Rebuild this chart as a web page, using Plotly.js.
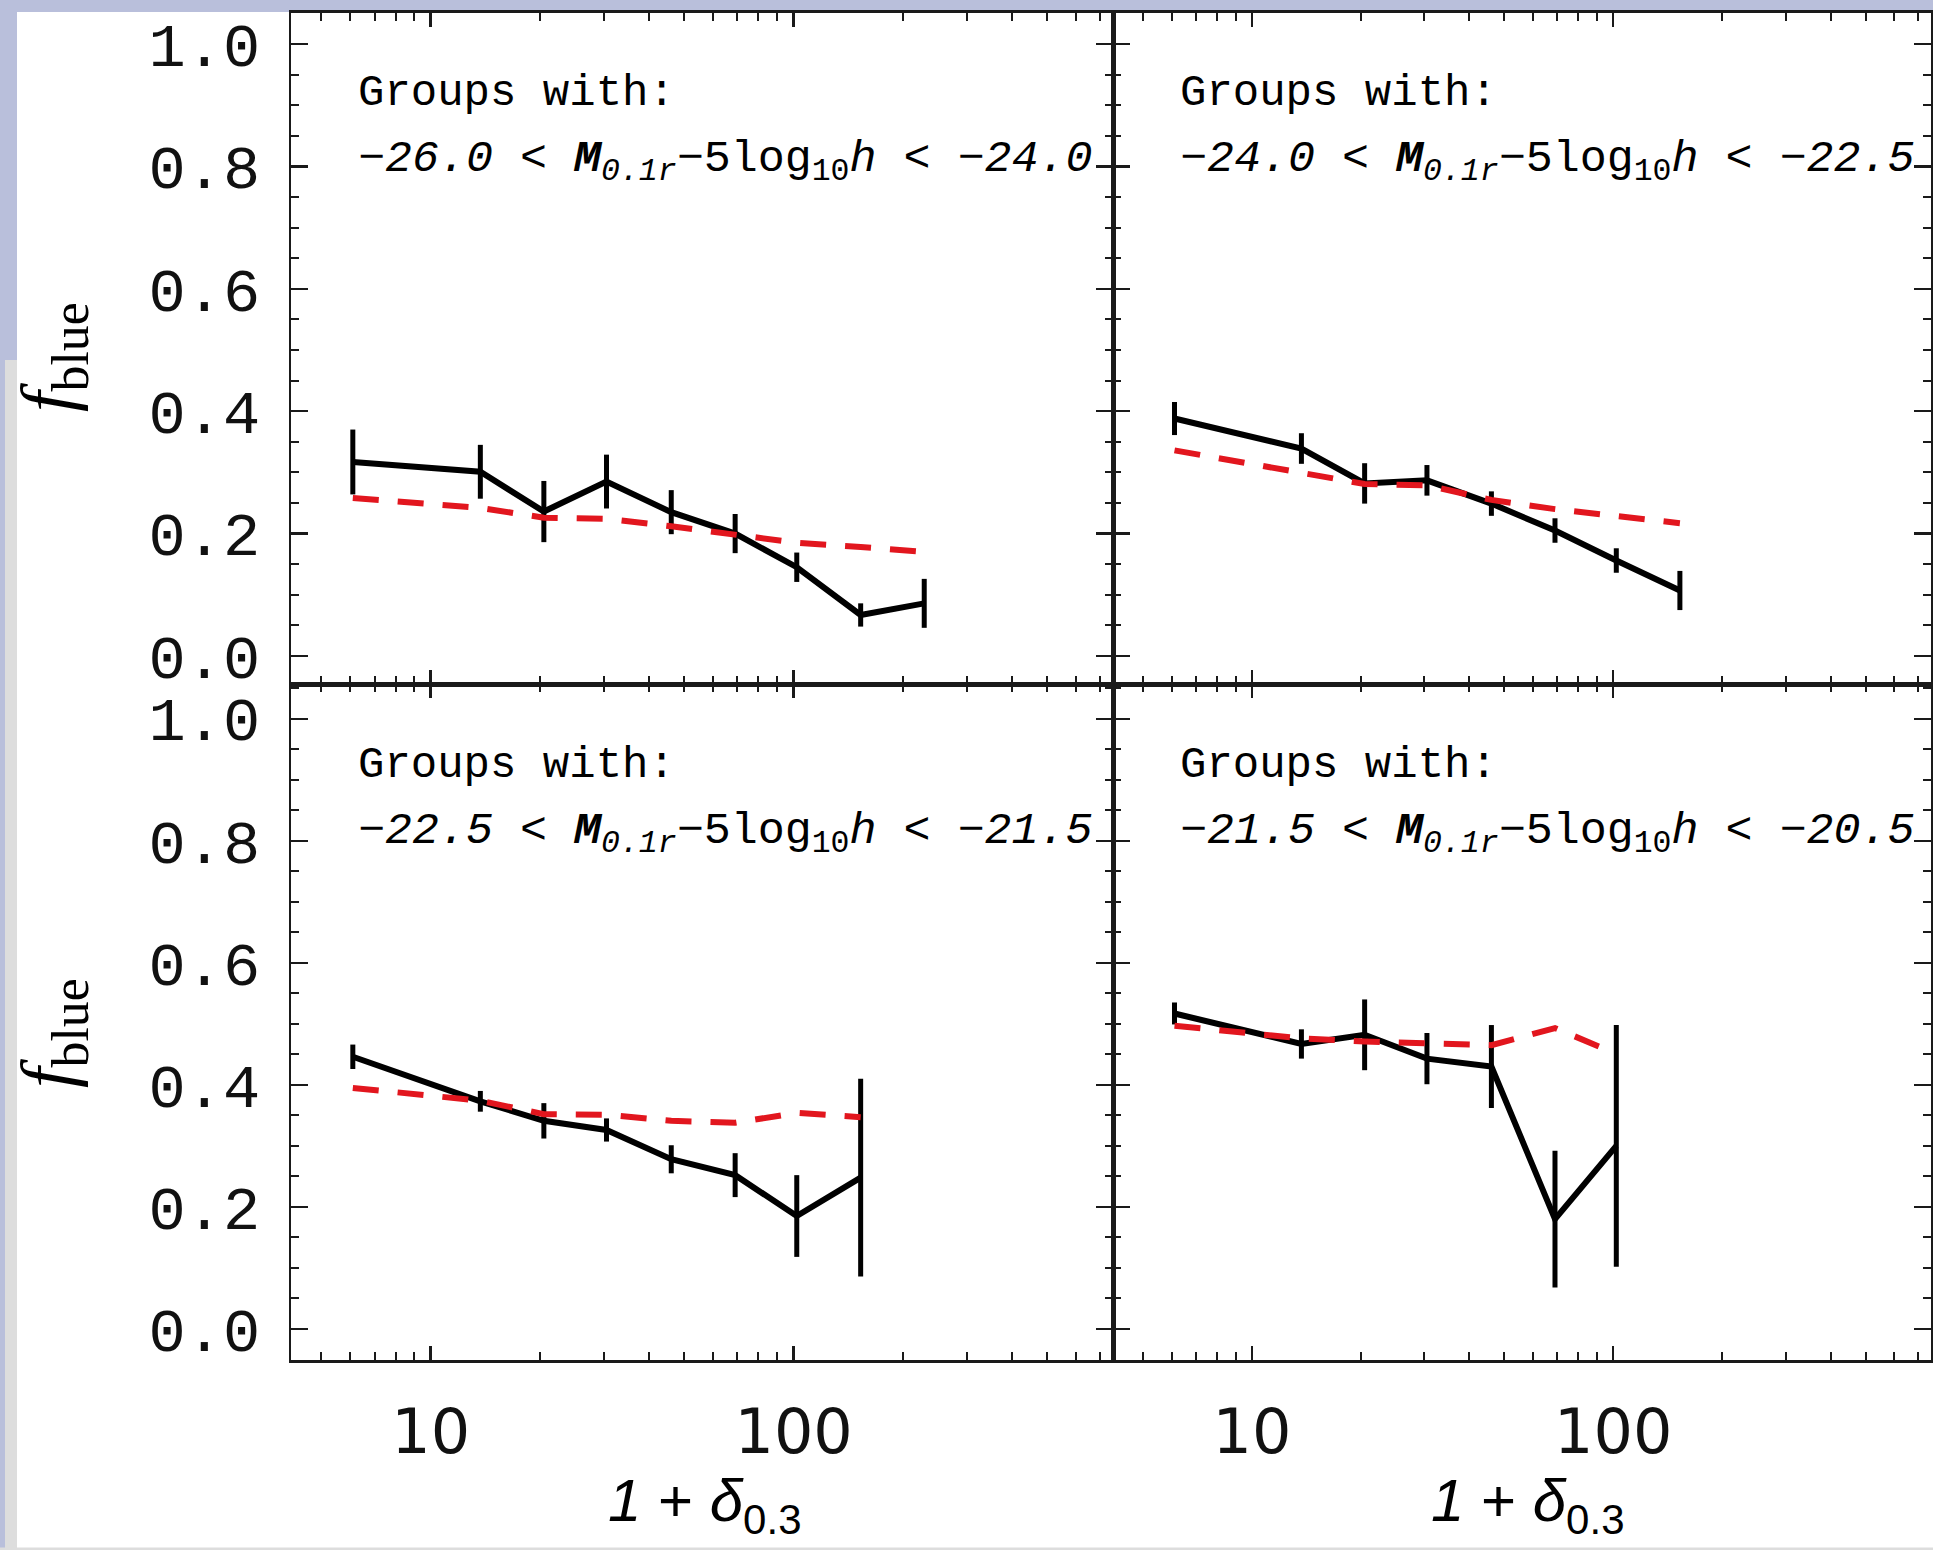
<!DOCTYPE html>
<html>
<head>
<meta charset="utf-8">
<script src="https://cdn.plot.ly/plotly-3.0.1.min.js"></script>
<style>html,body{margin:0;padding:0;background:#fff;}#chart{width:1933px;height:1550px;}</style>
</head>
<body>
<div id="chart"></div>
<script>
// ---------------- data ----------------
const delta = [6.1, 13.7, 20.5, 30.5, 46, 69, 102, 153, 229];   // 1+delta_0.3 bin centres

// panel 1: -26.0 < M < -24.0
const obs1   = [0.317, 0.301, 0.236, 0.285, 0.235, 0.200, 0.145, 0.067, 0.086];
const err1   = [0.053, 0.044, 0.050, 0.044, 0.036, 0.032, 0.024, 0.019, 0.040];
const model1 = [0.258, 0.242, 0.226, 0.224, 0.212, 0.199, 0.185, 0.178, 0.170];

// panel 2: -24.0 < M < -22.5
const obs2   = [0.388, 0.339, 0.282, 0.287, 0.249, 0.205, 0.156, 0.107];
const err2   = [0.027, 0.025, 0.033, 0.025, 0.020, 0.020, 0.020, 0.032];
const model2 = [0.336, 0.300, 0.281, 0.279, 0.255, 0.240, 0.229, 0.217];

// panel 3: -22.5 < M < -21.5
const obs3   = [0.446, 0.373, 0.341, 0.326, 0.278, 0.252, 0.185, 0.248];
const err3   = [0.020, 0.017, 0.029, 0.019, 0.023, 0.036, 0.067, 0.162];
const model3 = [0.395, 0.374, 0.352, 0.351, 0.341, 0.338, 0.354, 0.347];

// panel 4: -21.5 < M < -20.5
const obs4   = [0.517, 0.467, 0.482, 0.443, 0.430, 0.180, 0.300];
const err4   = [0.018, 0.024, 0.058, 0.042, 0.068, 0.112, 0.198];
const model4 = [0.497, 0.476, 0.471, 0.467, 0.465, 0.493, 0.451];

const magLo = ['−26.0', '−24.0', '−22.5', '−21.5'];
const magHi = ['−24.0', '−22.5', '−21.5', '−20.5'];

const yTickVals = [0.0, 0.2, 0.4, 0.6, 0.8, 1.0];
const yTickText = ['0.0', '0.2', '0.4', '0.6', '0.8', '1.0'];
const xTickVals = [10, 100];
const xTickText = ['10', '100'];

// ---------------- layout helpers ----------------
const W = 1933, H = 1550;
const px = v => v / W;
const py = v => 1 - v / H;

const obsList = [obs1, obs2, obs3, obs4];
const errList = [err1, err2, err3, err4];
const modList = [model1, model2, model3, model4];

const xMinor = [];
[1, 10, 100].forEach(d => { for (let k = 2; k <= 9; k++) xMinor.push(k * d); });

const AX = '#1a1a1a';
const panelLeft = [291, 1113, 291, 1113];
const panelRight = [1113, 1931, 1113, 1931];
const panelTop = [12.5, 12.5, 684, 684];
const panelBot = [684, 684, 1360, 1360];
const yRanges = [[-0.0458, 1.0515], [-0.0458, 1.0515], [-0.051, 1.057], [-0.051, 1.057]];

const traces = [];
const layout = {
  width: W, height: H,
  margin: {l: 0, r: 0, t: 0, b: 0},
  paper_bgcolor: '#ffffff',
  plot_bgcolor: '#ffffff',
  showlegend: false,
  shapes: [],
  annotations: []
};

for (let i = 0; i < 4; i++) {
  const n = obsList[i].length;
  const xs = delta.slice(0, n);
  const sfx = i === 0 ? '' : String(i + 1);
  traces.push({
    type: 'scatter', mode: 'lines', x: xs, y: obsList[i],
    xaxis: 'x' + sfx, yaxis: 'y' + sfx,
    line: {color: '#000000', width: 6},
    error_y: {type: 'data', array: errList[i], visible: true, color: '#000000', thickness: 5, width: 0},
    name: 'observed', hoverinfo: 'x+y'
  });
}
for (let i = 0; i < 4; i++) {
  const n = modList[i].length;
  const xs = delta.slice(0, n);
  const sfx = i === 0 ? '' : String(i + 1);
  traces.push({
    type: 'scatter', mode: 'lines', x: xs, y: modList[i],
    xaxis: 'x' + sfx, yaxis: 'y' + sfx,
    line: {color: 'rgb(226,22,30)', width: 6, dash: '26px,19px'},
    name: 'model', hoverinfo: 'x+y'
  });
}

for (let i = 0; i < 4; i++) {
  const sfx = i === 0 ? '' : String(i + 1);
  const bottomRow = i >= 2, leftCol = (i % 2) === 0;
  layout['xaxis' + sfx] = {
    type: 'log',
    domain: [px(panelLeft[i]), px(panelRight[i])],
    range: [0.615, 2.88],
    anchor: 'y' + sfx,
    showline: true, linecolor: AX, linewidth: 2.5, mirror: 'ticks',
    showgrid: false, zeroline: false,
    ticks: 'inside', ticklen: 14, tickwidth: 2.5, tickcolor: AX,
    tickmode: 'array', tickvals: xTickVals, ticktext: xTickText,
    showticklabels: bottomRow,
    ticklabelstandoff: 16,
    tickfont: {family: 'DejaVu Sans', size: 62, color: '#111111'},
    minor: {tickmode: 'array', tickvals: xMinor, ticks: 'inside', ticklen: 8, tickwidth: 2, tickcolor: AX, showgrid: false}
  };
  layout['yaxis' + sfx] = {
    domain: [py(panelBot[i]), py(panelTop[i])],
    range: yRanges[i],
    anchor: 'x' + sfx,
    showline: true, linecolor: AX, linewidth: 2.5, mirror: 'ticks',
    showgrid: false, zeroline: false,
    ticks: 'inside', ticklen: 17, tickwidth: 2.5, tickcolor: AX,
    tickmode: 'array', tickvals: yTickVals, ticktext: yTickText,
    showticklabels: leftCol,
    ticklabelstandoff: 16,
    tickfont: {family: 'Liberation Mono', size: 62, color: '#111111'},
    minor: {dtick: 0.05, tick0: 0, ticks: 'inside', ticklen: 8, tickwidth: 2, tickcolor: AX, showgrid: false}
  };

  // panel text
  layout.annotations.push({
    xref: 'paper', yref: 'paper', x: px(panelLeft[i] + 65), y: py(panelTop[i] + 81),
    xanchor: 'left', yanchor: 'middle', showarrow: false,
    text: 'Groups with:',
    font: {family: 'Liberation Mono', size: 44, color: '#000000'}
  });
  layout.annotations.push({
    xref: 'paper', yref: 'paper', x: px(panelLeft[i] + 65), y: py(panelTop[i] + 149),
    xanchor: 'left', yanchor: 'middle', showarrow: false,
    text: '<i>' + magLo[i] + '</i> &lt; <i><b>M</b><sub>0.1r</sub></i>−5log<sub>10</sub><i>h</i> &lt; <i>' + magHi[i] + '</i>',
    font: {family: 'Liberation Mono', size: 45, color: '#000000'}
  });
}

// axis titles as text
[705, 1528].forEach(cx => {
  layout.annotations.push({
    xref: 'paper', yref: 'paper', x: px(cx), y: py(1505),
    xanchor: 'center', yanchor: 'middle', showarrow: false,
    text: '<i>1</i> + <i>δ</i><sub>0.3</sub>',
    font: {family: 'Liberation Sans', size: 60, color: '#000000'}
  });
});
[357, 1033].forEach(cy => {
  layout.annotations.push({
    xref: 'paper', yref: 'paper', x: px(52), y: py(cy),
    xanchor: 'center', yanchor: 'middle', showarrow: false, textangle: -90,
    text: '<i>f</i><sub>blue</sub>',
    font: {family: 'Liberation Serif', size: 74, color: '#000000'}
  });
});

// slide frame strips
const BLUE = 'rgb(185,191,219)', GREY = 'rgb(221,221,221)';
layout.shapes.push(
  {type: 'rect', xref: 'paper', yref: 'paper', x0: 0, x1: 1, y0: py(12), y1: 1, fillcolor: BLUE, line: {width: 0}, layer: 'below'},
  {type: 'rect', xref: 'paper', yref: 'paper', x0: 0, x1: px(17), y0: py(360), y1: 1, fillcolor: BLUE, line: {width: 0}, layer: 'below'},
  {type: 'rect', xref: 'paper', yref: 'paper', x0: 0, x1: px(5), y0: 0, y1: py(360), fillcolor: BLUE, line: {width: 0}, layer: 'below'},
  {type: 'rect', xref: 'paper', yref: 'paper', x0: px(5), x1: px(17), y0: 0, y1: py(360), fillcolor: GREY, line: {width: 0}, layer: 'below'},
  {type: 'rect', xref: 'paper', yref: 'paper', x0: 0, x1: 1, y0: 0, y1: 2.5 / H, fillcolor: GREY, line: {width: 0}, layer: 'below'}
);

Plotly.newPlot('chart', traces, layout, {staticPlot: true, displayModeBar: false});
</script>
</body>
</html>
